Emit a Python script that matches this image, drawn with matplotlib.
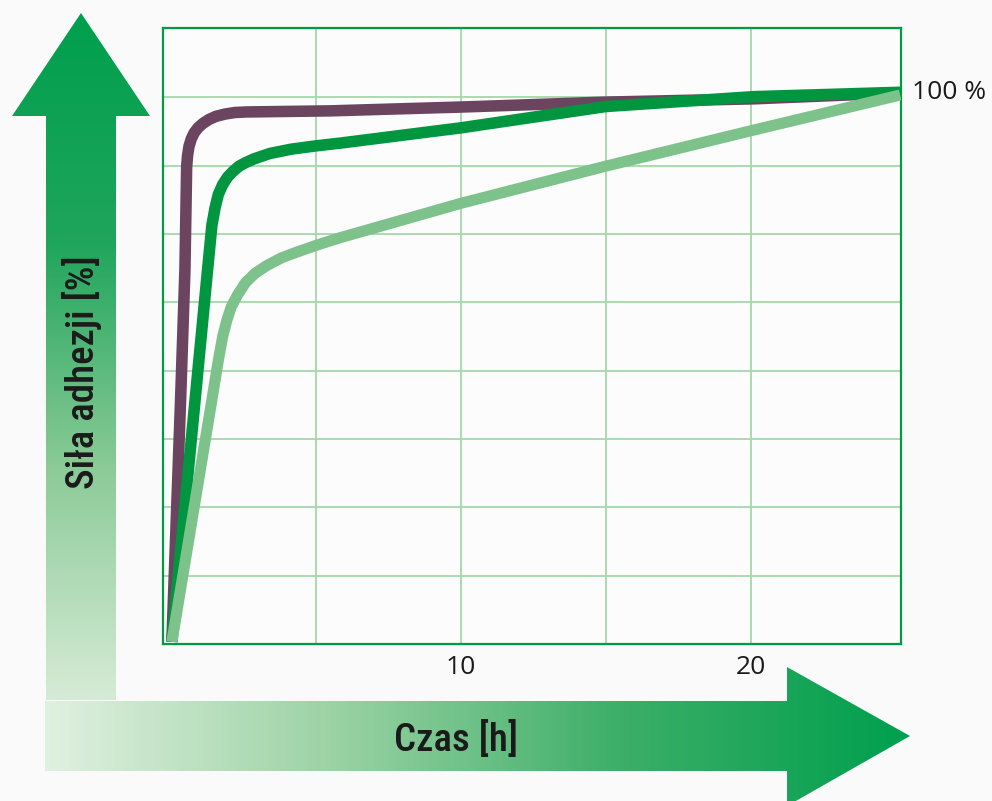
import numpy as np
import matplotlib
matplotlib.use('Agg')
import matplotlib.pyplot as plt
from matplotlib.patches import Polygon
from matplotlib.colors import LinearSegmentedColormap

# adhesion strength [%] vs time [h]
t_fast   = [0.03, 0.33, 0.48, 0.54, 0.57, 0.62, 0.70, 0.80, 0.93, 1.10, 1.30, 1.55, 1.85, 2.20, 2.60,
            5.48, 10.0, 15.0, 20.1, 25.14]
f_fast   = [0.4, 44.6, 68.4, 87.3, 89.3, 91.0, 92.4, 93.5, 94.4, 95.2, 95.9, 96.5, 96.9, 97.2, 97.3,
            97.5, 98.2, 99.1, 99.7, 100.8]

t_mid    = [0.03, 0.83, 1.26, 1.41, 1.52, 1.63, 1.78, 1.95, 2.15, 2.35, 2.60, 2.85, 3.40, 4.15, 5.00,
            5.83, 10.0, 15.0, 20.1, 25.14]
f_mid    = [0.4, 44.6, 68.4, 76.6, 79.8, 82.2, 84.0, 85.4, 86.5, 87.4, 88.1, 88.7, 89.7, 90.5, 91.1,
            91.6, 94.4, 98.3, 100.1, 100.9]

t_slow   = [0.03, 1.38, 1.62, 1.78, 1.93, 2.08, 2.30, 2.57, 2.90, 3.30, 3.80, 4.30, 5.00, 5.83,
            10.0, 15.0, 20.1, 25.14]
f_slow   = [0.4, 43.7, 51.5, 56.2, 59.3, 61.7, 63.9, 66.1, 67.8, 69.2, 70.6, 71.6, 72.9, 74.3,
            80.6, 87.4, 94.0, 100.4]

x_ticks  = [5, 10, 15, 20]
x_labels = ['', '10', '', '20']
y_ticks  = [12.5, 25, 37.5, 50, 62.5, 75, 87.5, 100]

col_fast = '#6b4460'
col_mid  = '#009640'
col_slow = '#7dc28a'
col_grid = '#a4d7aa'
col_frame = '#009a44'

fig = plt.figure(figsize=(9.92, 8.01), dpi=100, facecolor='#fafafa')

# background layer in pixel coordinates for the two gradient arrows
bg = fig.add_axes([0, 0, 1, 1])
bg.axis('off')

v_arrow = Polygon([(46, 700), (116, 700), (116, 116), (150, 116), (81, 13), (12, 116), (46, 116)],
                  closed=True, facecolor='none', edgecolor='none')
bg.add_patch(v_arrow)
v_cmap = LinearSegmentedColormap.from_list('v', ['#009f4d', '#1fa55c', '#8ccb98', '#d6ebd6'])
im = bg.imshow(np.linspace(0, 1, 256).reshape(-1, 1), extent=[10, 152, 700, 12],
               cmap=v_cmap, aspect='auto', interpolation='bilinear')
im.set_clip_path(v_arrow)

h_arrow = Polygon([(45, 701), (787, 701), (787, 667), (910, 736), (787, 806), (787, 771), (45, 771)],
                  closed=True, facecolor='none', edgecolor='none')
bg.add_patch(h_arrow)
h_cmap = LinearSegmentedColormap.from_list('h', ['#e0f0e0', '#9bd2a4', '#3cae68', '#00a04e'])
im2 = bg.imshow(np.linspace(0, 1, 256).reshape(1, -1), extent=[45, 911, 806, 666],
                cmap=h_cmap, aspect='auto', interpolation='bilinear')
im2.set_clip_path(h_arrow)

bg.set_xlim(0, 992)
bg.set_ylim(801, 0)

cond = ['Roboto Condensed', 'DejaVu Sans Condensed', 'Liberation Sans Narrow', 'DejaVu Sans']
bg.text(82, 372, 'Siła adhezji [%]', rotation=90, ha='center', va='center',
        fontsize=28, family=cond, fontstretch='condensed', weight='medium', color='#1a1a1a')
bg.text(456, 740, 'Czas [h]', ha='center', va='center',
        fontsize=28, family=cond, fontstretch='condensed', weight='medium', color='#1a1a1a')

# chart
ax = fig.add_axes([163/992, 1 - 644/801, (901-163)/992, (644-28.3)/801])
ax.set_facecolor('#fcfcfc')
ax.plot(t_fast, f_fast, color=col_fast, lw=8.3, solid_capstyle='butt', solid_joinstyle='round', zorder=3)
ax.plot(t_mid, f_mid, color=col_mid, lw=8.3, solid_capstyle='butt', solid_joinstyle='round', zorder=4)
ax.plot(t_slow, f_slow, color=col_slow, lw=8.0, solid_capstyle='butt', solid_joinstyle='round', zorder=5)

ax.set_xlim(-0.276, 25.17)
ax.set_ylim(0, 112.6)
ax.set_xticks(x_ticks)
ax.set_xticklabels(x_labels, family=['Open Sans', 'DejaVu Sans'], fontsize=19, color='#1a1a1a')
ax.set_yticks(y_ticks)
ax.set_yticklabels([])
ax.tick_params(length=0, pad=8)
ax.grid(True, color=col_grid, lw=1.3, zorder=1)
ax.set_axisbelow(True)
for s in ax.spines.values():
    s.set_color(col_frame)
    s.set_linewidth(1.6)

ax.text(25.55, 100.8, '100 %', va='center', ha='left', fontsize=19,
        family=['Open Sans', 'DejaVu Sans'], color='#1a1a1a', clip_on=False)

fig.savefig('out.png', dpi=100, facecolor=fig.get_facecolor())
